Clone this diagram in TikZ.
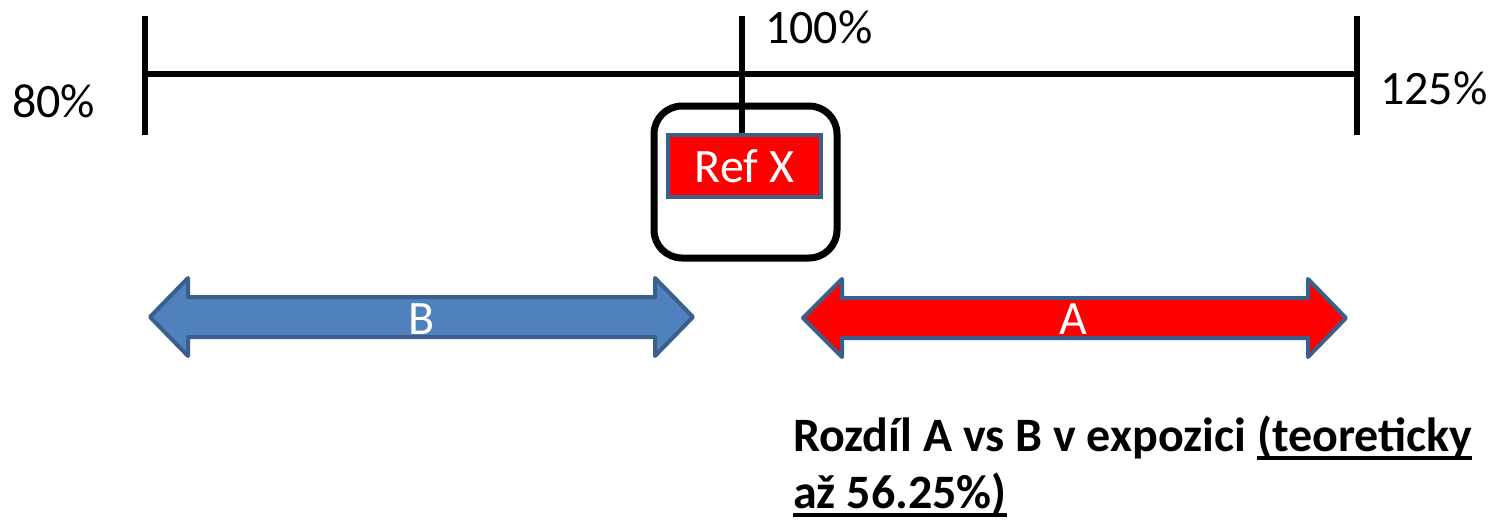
\documentclass[tikz,border=0pt]{standalone}
\usepackage{fontspec}
\setmainfont{Carlito}
\definecolor{bfill}{HTML}{4F81BD}
\definecolor{bline}{HTML}{3A5F8B}
\definecolor{refred}{HTML}{FF0000}
\newcommand\myul[1]{\setbox0\hbox{#1}\rlap{\rule[-0.17em]{\wd0}{0.075em}}\box0}
\begin{document}
\begin{tikzpicture}[x=1pt,y=-1pt,
  axis/.style={line width=6pt,black},
  lbl/.style={font=\fontsize{48}{56}\selectfont,inner sep=0pt},
  wlbl/.style={lbl,text=white},
  dblarrow/.style={line width=4pt,line join=round,draw=bline}]
\useasboundingbox (0,0) rectangle (1506,520);
% axis
\draw[axis] (145,74) -- (1357,74);
\draw[axis] (145,16) -- (145,135);
\draw[axis] (1357,16) -- (1357,135);
\draw[axis] (742,16) -- (742,133);
\node[lbl,anchor=west] (p80) at (12,101) {80\%};
\node[lbl,anchor=west] (p100) at (765,27) {100\%};
\node[lbl,anchor=west] (p125) at (1380,88) {125\%};
% ref box
\draw[line width=7pt,rounded corners=28pt] (654,106) rectangle (837,258);
\node[draw=bline,line width=4pt,fill=refred,minimum width=153pt,minimum height=62pt,inner sep=0pt] (ref) at (744.5,166) {};
\node[wlbl] (reftext) at (ref.center) {Ref X};
% B arrow
\draw[dblarrow,fill=bfill] (150,317) -- (188,278) -- (188,297) -- (655,297) -- (655,278) -- (693,317) -- (655,356) -- (655,337) -- (188,337) -- (188,356) -- cycle;
\node[wlbl] (B) at (422,319) {B};
% A arrow
\draw[dblarrow,fill=refred] (803,318) -- (842,279) -- (842,298) -- (1308,298) -- (1308,279) -- (1346,318) -- (1308,357) -- (1308,338) -- (842,338) -- (842,357) -- cycle;
\node[wlbl] (A) at (1073,319) {A};
% bottom text
\node[lbl,anchor=north west,align=left,font=\fontsize{48}{57}\selectfont\bfseries] (note) at (793,416) {Rozdíl A vs B v expozici \myul{(teoreticky}\\\myul{až 56.25\%)}};
\end{tikzpicture}
\end{document}
